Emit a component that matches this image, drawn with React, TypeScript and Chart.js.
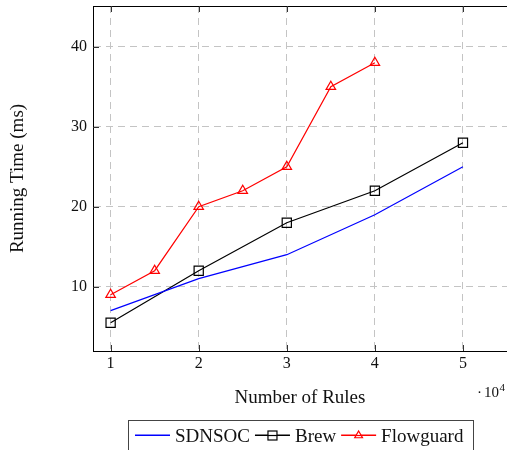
import React, { useEffect, useRef } from "react";
import { Chart, registerables } from "chart.js";

Chart.register(...registerables);

const xTicks = [1, 2, 3, 4, 5];
const yTicks = [10, 20, 30, 40];

const sdnsocX = [1, 2, 3, 4, 5];
const sdnsocY = [7, 11, 14, 19, 25];

const brewX = [1, 2, 3, 4, 5];
const brewY = [5.5, 12, 18, 22, 28];

const flowX = [1, 1.5, 2, 2.5, 3, 3.5, 4];
const flowY = [9, 12, 20, 22, 25, 35, 38];

const seriesNames = ["SDNSOC", "Brew", "Flowguard"];
const seriesColors = ["#0000ff", "#000000", "#ff0000"];
const xTitle = "Number of Rules";
const yTitle = "Running Time (ms)";

const FONT = "'Liberation Serif', 'DejaVu Serif', serif";

const toPts = (xs: number[], ys: number[]) => xs.map((x, i) => ({ x, y: ys[i] }));

const zeroPad = (s: any) => {
  s.paddingTop = 0;
  s.paddingBottom = 0;
  s.paddingLeft = 0;
  s.paddingRight = 0;
};

const overlay = {
  id: "overlay",
  afterDraw(chart: any) {
    const ctx = chart.ctx as CanvasRenderingContext2D;
    const { left, right, top, bottom } = chart.chartArea;
    const xs = chart.scales.x;
    const ys = chart.scales.y;
    ctx.save();
    // top frame line
    ctx.strokeStyle = "#000";
    ctx.lineWidth = 1;
    ctx.beginPath();
    ctx.moveTo(left, Math.round(top) + 0.5);
    ctx.lineTo(right + 1, Math.round(top) + 0.5);
    ctx.stroke();
    // inner tick marks
    ctx.strokeStyle = "#333";
    const tl = 6;
    xTicks.forEach((v) => {
      const px = Math.round(xs.getPixelForValue(v)) + 0.5;
      ctx.beginPath();
      ctx.moveTo(px, bottom);
      ctx.lineTo(px, bottom - tl);
      ctx.moveTo(px, top);
      ctx.lineTo(px, top + tl);
      ctx.stroke();
    });
    yTicks.forEach((v) => {
      const py = Math.round(ys.getPixelForValue(v)) + 0.5;
      ctx.beginPath();
      ctx.moveTo(left, py);
      ctx.lineTo(left + tl, py);
      ctx.stroke();
    });
    // x10^4 multiplier
    ctx.fillStyle = "#111";
    ctx.textBaseline = "alphabetic";
    ctx.textAlign = "left";
    ctx.font = `15px ${FONT}`;
    ctx.fillText("\u00b7", 477, 397);
    ctx.fillText("10", 484, 397);
    const tw = ctx.measureText("10").width;
    ctx.font = `11px ${FONT}`;
    ctx.fillText("4", 484 + tw + 0.5, 391);

    // legend
    ctx.font = `19px ${FONT}`;
    const lineLen = 35;
    const gap = 5;
    const widths = seriesNames.map((n) => ctx.measureText(n).width);
    const total = widths.reduce((a, w) => a + lineLen + gap + w, 0) + gap * (seriesNames.length - 1);
    const padL = 7;
    const padR = 10;
    const boxW = total + padL + padR;
    const boxL = Math.round(300.5 - boxW / 2);
    const boxT = 420;
    ctx.strokeStyle = "#444";
    ctx.lineWidth = 1;
    ctx.strokeRect(boxL + 0.5, boxT + 0.5, Math.round(boxW), 40);
    const lineY = 435.5;
    let cx = boxL + padL;
    seriesNames.forEach((name, i) => {
      const col = seriesColors[i];
      ctx.strokeStyle = col;
      ctx.lineWidth = 1.4;
      ctx.beginPath();
      ctx.moveTo(cx, lineY - 0.3);
      ctx.lineTo(cx + lineLen, lineY - 0.3);
      ctx.stroke();
      ctx.lineWidth = 1.2;
      const mx = cx + lineLen / 2;
      if (i === 1) {
        ctx.fillStyle = "#fff";
        ctx.fillRect(mx - 4.5, lineY - 4.5, 9, 9);
        ctx.strokeRect(mx - 4.5, lineY - 4.5, 9, 9);
        ctx.beginPath();
        ctx.moveTo(mx - 4.5, lineY);
        ctx.lineTo(mx + 4.5, lineY);
        ctx.stroke();
      } else if (i === 2) {
        const r = 4.5;
        ctx.fillStyle = "#fff";
        ctx.beginPath();
        ctx.moveTo(mx, lineY - r);
        ctx.lineTo(mx + r * 0.866, lineY + r * 0.5);
        ctx.lineTo(mx - r * 0.866, lineY + r * 0.5);
        ctx.closePath();
        ctx.fill();
        ctx.stroke();
        ctx.beginPath();
        ctx.moveTo(mx - r * 0.6, lineY);
        ctx.lineTo(mx + r * 0.6, lineY);
        ctx.stroke();
      }
      cx += lineLen + gap;
      ctx.fillStyle = "#111";
      ctx.font = `19px ${FONT}`;
      ctx.fillText(name, cx, 442);
      cx += widths[i] + gap;
    });
    ctx.restore();
  },
};

export default function App() {
  const ref = useRef<HTMLCanvasElement | null>(null);
  useEffect(() => {
    document.body.style.margin = "0";
    document.body.style.overflow = "hidden";
    const canvas = ref.current;
    if (!canvas) return;
    const chart = new Chart(canvas, {
      type: "line",
      data: {
        datasets: [
          {
            label: seriesNames[0],
            data: toPts(sdnsocX, sdnsocY),
            borderColor: seriesColors[0],
            borderWidth: 1.2,
            pointRadius: 0,
            fill: false,
            tension: 0,
          },
          {
            label: seriesNames[1],
            data: toPts(brewX, brewY),
            borderColor: seriesColors[1],
            borderWidth: 1.2,
            pointStyle: "rect",
            pointRadius: 6.5,
            pointBorderWidth: 1.2,
            pointBorderColor: seriesColors[1],
            pointBackgroundColor: "rgba(0,0,0,0)",
            fill: false,
            tension: 0,
          },
          {
            label: seriesNames[2],
            data: toPts(flowX, flowY),
            borderColor: seriesColors[2],
            borderWidth: 1.2,
            pointStyle: "triangle",
            pointRadius: 5.5,
            pointBorderWidth: 1.2,
            pointBorderColor: seriesColors[2],
            pointBackgroundColor: "rgba(0,0,0,0)",
            fill: false,
            tension: 0,
          },
        ],
      },
      options: {
        animation: false,
        responsive: true,
        maintainAspectRatio: false,
        devicePixelRatio: 1,
        layout: { autoPadding: false, padding: { left: 0, right: 0, top: 6, bottom: 41 } },
        plugins: {
          legend: { display: false },
          tooltip: { enabled: false },
        },
        scales: {
          x: {
            type: "linear",
            min: 0.8,
            max: 5.5,
            afterBuildTicks: (s: any) => {
              s.ticks = xTicks.map((v) => ({ value: v }));
            },
            afterFit: (s: any) => {
              s.height = 58;
              zeroPad(s);
            },
            grid: { color: "#c4c4c4", lineWidth: 1, drawTicks: false },
            border: { display: true, color: "#000", width: 1, dash: [7, 5] },
            ticks: {
              padding: 3,
              color: "#111",
              font: { family: FONT, size: 16 },
              callback: (v: any) => String(v),
            },
            title: {
              display: true,
              text: xTitle,
              color: "#111",
              font: { family: FONT, size: 19 },
              padding: { top: 0, bottom: 0 },
            },
          },
          y: {
            type: "linear",
            min: 1.96,
            max: 45.09,
            afterBuildTicks: (s: any) => {
              s.ticks = yTicks.map((v) => ({ value: v }));
            },
            afterFit: (s: any) => {
              s.width = 93;
              zeroPad(s);
            },
            grid: { color: "#c4c4c4", lineWidth: 1, drawTicks: false },
            border: { display: true, color: "#000", width: 1, dash: [7, 5] },
            ticks: {
              padding: 6,
              color: "#111",
              font: { family: FONT, size: 16 },
              callback: (v: any) => String(v),
            },
            title: {
              display: true,
              text: yTitle,
              color: "#111",
              font: { family: FONT, size: 19 },
              padding: { top: 7, bottom: 0 },
            },
          },
        },
      },
      plugins: [overlay],
    });
    return () => chart.destroy();
  }, []);
  return (
    <div style={{ position: "fixed", left: 0, top: 0, width: 507, height: 450 }}>
      <canvas ref={ref} />
    </div>
  );
}
